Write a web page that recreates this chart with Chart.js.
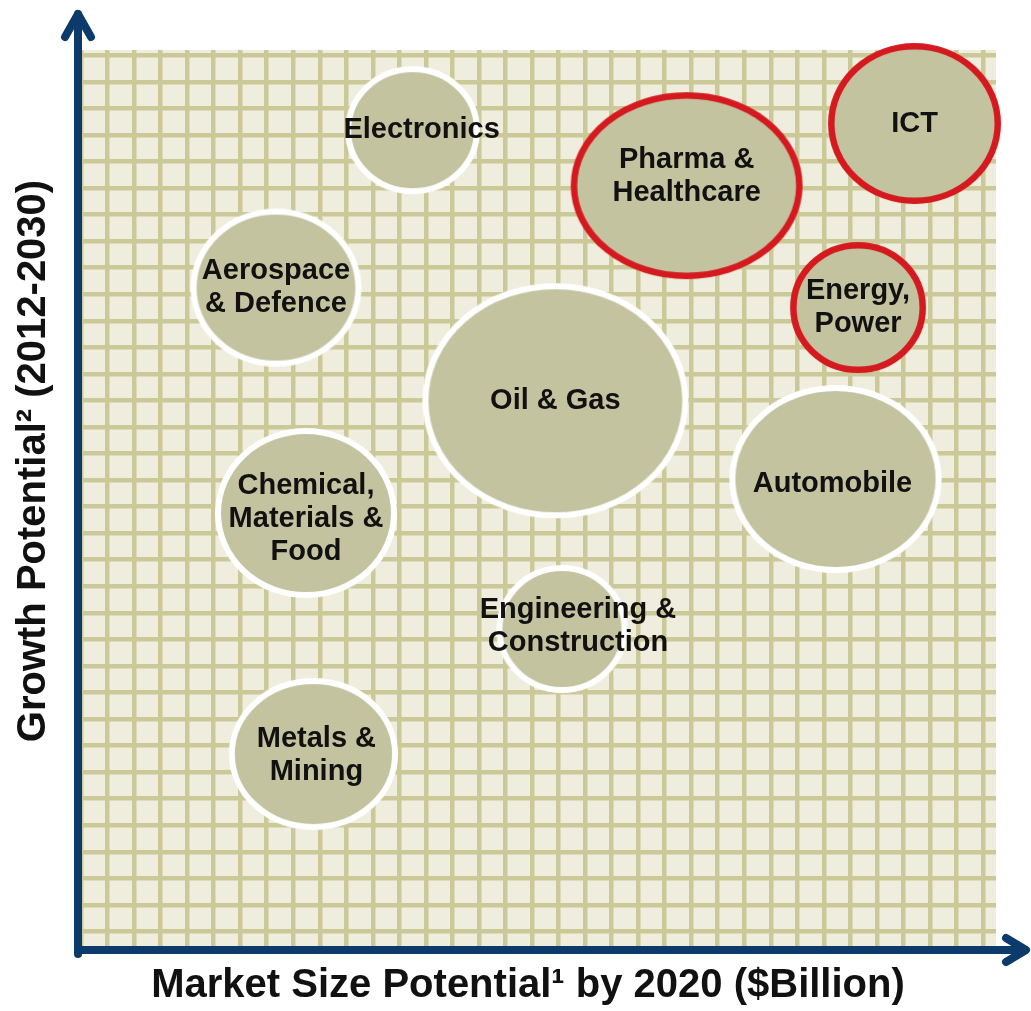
<!DOCTYPE html>
<html>
<head>
<meta charset="utf-8">
<script src="https://cdn.jsdelivr.net/npm/chart.js@4.4.1/dist/chart.umd.min.js"></script>
<style>
  html, body { margin: 0; padding: 0; background: #ffffff; }
  #wrap { width: 1031px; height: 1011px; }
</style>
</head>
<body>
<div id="wrap"><canvas id="chart" width="1031" height="1011"></canvas></div>
<script>
// Sector bubbles: position on the market-size / growth grid and extent along each axis
const sectors = [
  'Electronics',
  'Pharma &\nHealthcare',
  'ICT',
  'Aerospace\n& Defence',
  'Energy,\nPower',
  'Oil & Gas',
  'Automobile',
  'Chemical,\nMaterials &\nFood',
  'Engineering &\nConstruction',
  'Metals &\nMining'
];
const marketSize       = [12.50, 22.83, 31.42, 7.35, 29.29, 17.88, 28.44, 8.48, 18.13, 8.76];
const growthPotential  = [30.18, 28.09, 30.43, 24.25, 23.50, 19.99, 17.04, 15.76, 11.39, 6.68];
const bubbleHalfWidth  = [2.54, 4.37, 3.26, 3.22, 2.56, 5.01, 4.00, 3.43, 2.47, 3.19];
const bubbleHalfHeight = [2.41, 3.52, 3.03, 2.98, 2.47, 4.43, 3.54, 3.20, 2.41, 2.86];
const focusSector      = [false, true, true, false, true, false, false, false, false, false];

const xTitle = 'Market Size Potential\u00b9 by 2020 ($Billion)';
const yTitle = 'Growth Potential\u00b2 (2012-2030)';

const COLORS = {
  paper: '#efedde',
  grid: '#ccc999',
  bubble: '#c4c3a0',
  ring: '#ffffff',
  focusRing: '#d51a1f',
  axis: '#0c3a6a',
  text: '#111111'
};
const FONT = '"Liberation Sans", Arial, Helvetica, sans-serif';

// Small text nudges (px) so labels sit where they read best inside their bubbles
const LABEL_NUDGE = {
  0: { dx: 9, dy: 0 },
  1: { dx: 0, dy: -9 },
  6: { dx: -3, dy: 5 },
  7: { dx: 0, dy: 6 },
  8: { dx: 16, dy: -3 },
  9: { dx: 3, dy: 1 }
};

// Each bubble is an ellipse whose half-axes are measured in axis units
const styleCache = {};
function ellipseStyle(context) {
  const i = context.dataIndex;
  const chart = context.chart;
  const xs = chart.scales && chart.scales.x;
  const ys = chart.scales && chart.scales.y;
  if (i === undefined || !xs || !ys) return 'circle';
  const rx = Math.abs(xs.getPixelForValue(marketSize[i] + bubbleHalfWidth[i]) - xs.getPixelForValue(marketSize[i]));
  const ry = Math.abs(ys.getPixelForValue(growthPotential[i] + bubbleHalfHeight[i]) - ys.getPixelForValue(growthPotential[i]));
  if (!isFinite(rx) || !isFinite(ry) || rx < 4 || ry < 4) return 'circle';
  const key = i + ':' + rx.toFixed(2) + ':' + ry.toFixed(2);
  if (styleCache[key]) return styleCache[key];
  const ring = focusSector[i] ? 6.5 : 6;
  const cv = document.createElement('canvas');
  cv.width = Math.round(2 * rx) + 2;
  cv.height = Math.round(2 * ry) + 2;
  const g = cv.getContext('2d');
  g.beginPath();
  g.ellipse(cv.width / 2, cv.height / 2, rx - ring / 2, ry - ring / 2, 0, 0, Math.PI * 2);
  g.fillStyle = COLORS.bubble;
  g.fill();
  g.lineWidth = ring;
  g.strokeStyle = focusSector[i] ? COLORS.focusRing : COLORS.ring;
  g.stroke();
  styleCache[key] = cv;
  return cv;
}

const paperPlugin = {
  id: 'paper',
  beforeDraw(chart) {
    const { ctx, chartArea: a } = chart;
    ctx.save();
    ctx.fillStyle = COLORS.paper;
    ctx.fillRect(a.left, a.top, a.right - a.left, a.bottom - a.top);
    ctx.restore();
  }
};

const labelPlugin = {
  id: 'sectorLabels',
  afterDatasetsDraw(chart) {
    const { ctx } = chart;
    const meta = chart.getDatasetMeta(0);
    ctx.save();
    ctx.font = 'bold 29px ' + FONT;
    ctx.fillStyle = COLORS.text;
    ctx.textAlign = 'center';
    ctx.textBaseline = 'middle';
    const lh = 33;
    meta.data.forEach((el, i) => {
      const n = LABEL_NUDGE[i] || { dx: 0, dy: 0 };
      const lines = sectors[i].split('\n');
      const y0 = el.y + n.dy - (lines.length - 1) * lh / 2;
      lines.forEach((t, k) => ctx.fillText(t, el.x + n.dx, y0 + k * lh));
    });
    ctx.restore();
  }
};

const axesPlugin = {
  id: 'arrowAxes',
  afterDraw(chart) {
    const { ctx, chartArea: a } = chart;
    const ox = a.left - 3;
    const oy = a.bottom;
    ctx.save();
    ctx.strokeStyle = COLORS.axis;
    ctx.lineWidth = 8;
    ctx.lineCap = 'round';
    ctx.lineJoin = 'round';
    // vertical axis with arrow head
    const topY = 14;
    ctx.beginPath();
    ctx.moveTo(ox, oy + 4);
    ctx.lineTo(ox, topY);
    ctx.stroke();
    ctx.beginPath();
    ctx.moveTo(ox - 13, topY + 23);
    ctx.lineTo(ox, topY);
    ctx.lineTo(ox + 13, topY + 23);
    ctx.stroke();
    // horizontal axis with arrow head
    const tipX = 1026;
    ctx.lineCap = 'butt';
    ctx.beginPath();
    ctx.moveTo(ox - 4, oy);
    ctx.lineTo(tipX, oy);
    ctx.stroke();
    ctx.lineCap = 'round';
    ctx.beginPath();
    ctx.moveTo(tipX - 20, oy - 12);
    ctx.lineTo(tipX, oy);
    ctx.lineTo(tipX - 20, oy + 12);
    ctx.stroke();

    // axis titles
    ctx.fillStyle = COLORS.text;
    ctx.font = 'bold 40px ' + FONT;
    ctx.textAlign = 'center';
    ctx.textBaseline = 'middle';
    ctx.fillText(xTitle, 528, 986);
    ctx.translate(34, 461);
    ctx.rotate(-Math.PI / 2);
    ctx.fillText(yTitle, 0, 0);
    ctx.restore();
  }
};

function gridTicks(from, to) {
  return (scale) => {
    const t = [];
    for (let v = from; v <= to; v++) t.push({ value: v });
    scale.ticks = t;
  };
}

new Chart(document.getElementById('chart'), {
  type: 'bubble',
  data: {
    datasets: [{
      label: 'Sectors',
      data: sectors.map((s, i) => ({ x: marketSize[i], y: growthPotential[i], r: 1 })),
      pointStyle: ellipseStyle,
      backgroundColor: COLORS.bubble,
      borderColor: COLORS.ring,
      clip: false
    }]
  },
  options: {
    responsive: false,
    animation: false,
    events: [],
    layout: { padding: { left: 81, right: 35, top: 50, bottom: 61 } },
    plugins: {
      legend: { display: false },
      tooltip: { enabled: false },
      title: { display: false }
    },
    scales: {
      x: {
        type: 'linear',
        min: 0,
        max: 34.49,
        afterBuildTicks: gridTicks(0, 34),
        ticks: { display: false },
        grid: { color: COLORS.grid, lineWidth: 4.5, drawTicks: false },
        border: { display: false },
        title: { display: false }
      },
      y: {
        type: 'linear',
        min: -0.7,
        max: 33.2,
        afterBuildTicks: gridTicks(0, 33),
        ticks: { display: false },
        grid: { color: COLORS.grid, lineWidth: 4.5, drawTicks: false },
        border: { display: false },
        title: { display: false }
      }
    }
  },
  plugins: [paperPlugin, labelPlugin, axesPlugin]
});
</script>
</body>
</html>
